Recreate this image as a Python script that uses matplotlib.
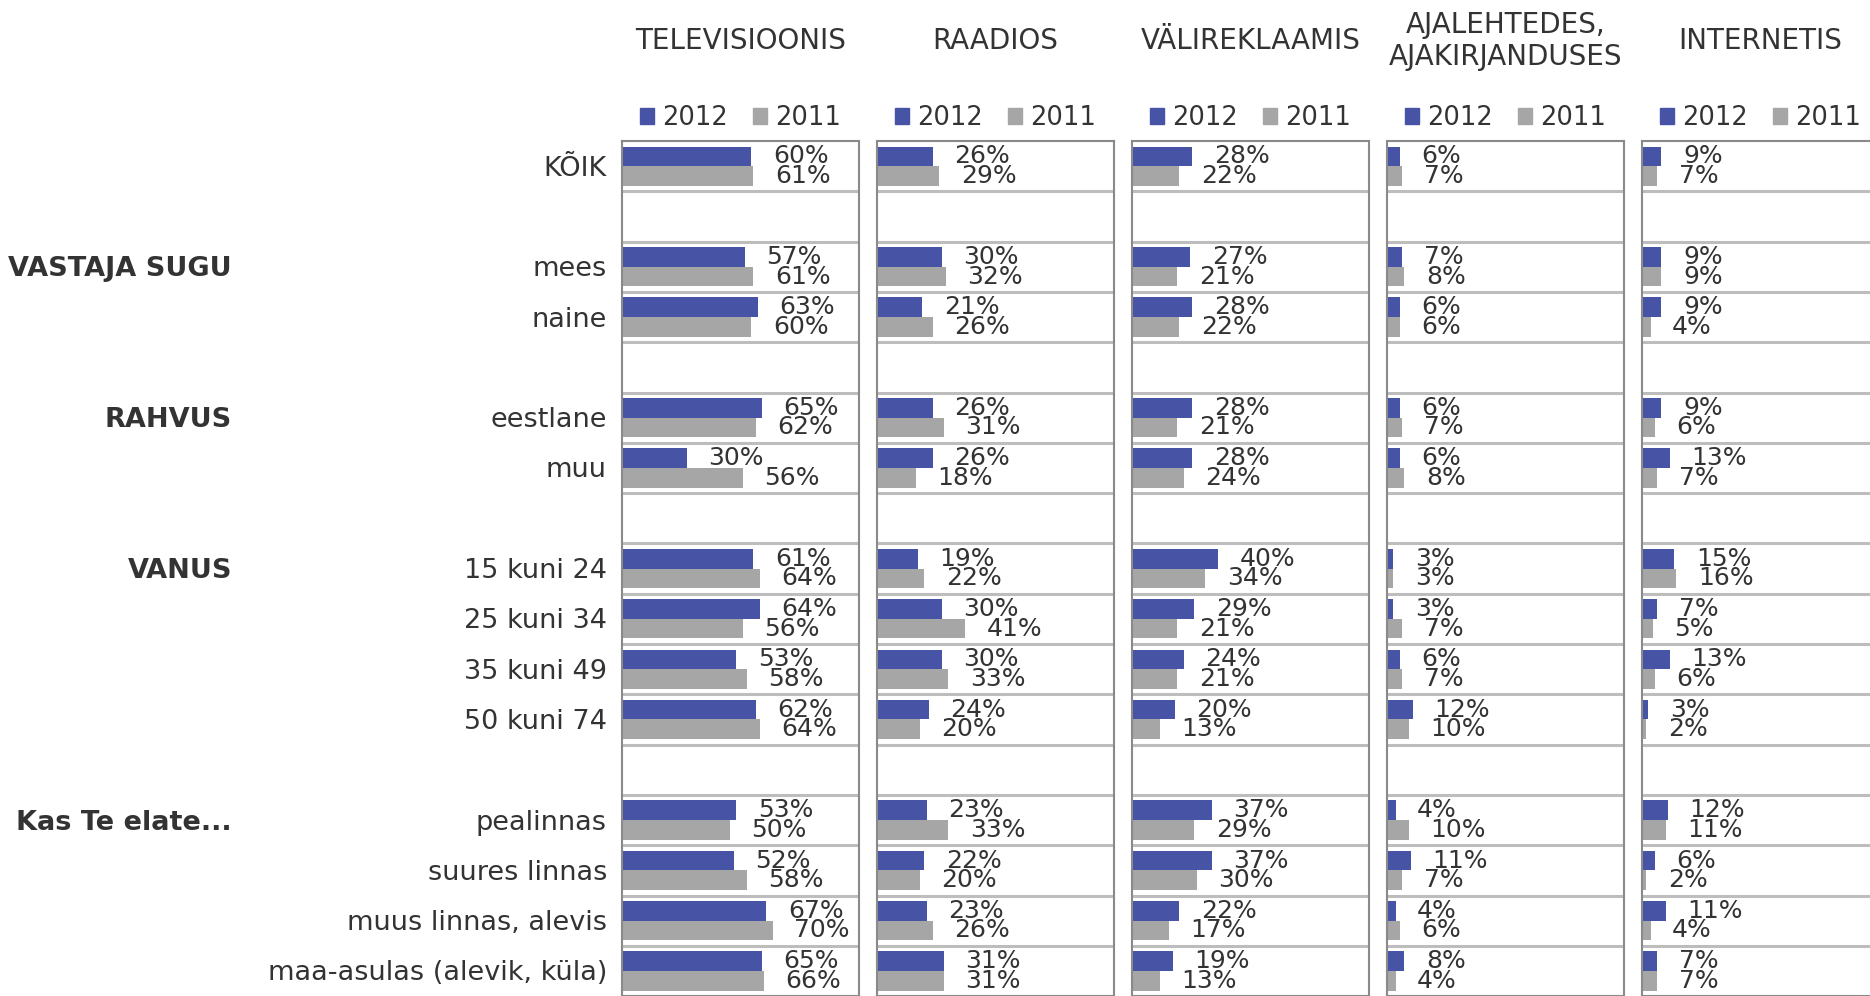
import numpy as np
import matplotlib
matplotlib.use("Agg")
import matplotlib.pyplot as plt
import matplotlib.transforms as mtransforms
from matplotlib.patches import Patch

# rows of the table, "" = empty separator row
row_labels = ["KÕIK", "", "mees", "naine", "", "eestlane", "muu", "",
              "15 kuni 24", "25 kuni 34", "35 kuni 49", "50 kuni 74", "",
              "pealinnas", "suures linnas", "muus linnas, alevis",
              "maa-asulas (alevik, küla)"]
group_labels = {"VASTAJA SUGU": "mees", "RAHVUS": "eestlane",
                "VANUS": "15 kuni 24", "Kas Te elate...": "pealinnas"}

panel_titles = ["TELEVISIOONIS", "RAADIOS", "VÄLIREKLAAMIS",
                "AJALEHTEDES,\nAJAKIRJANDUSES", "INTERNETIS"]
years = ["2012", "2011"]

# values for non-empty rows, per panel
tv_2012 = [60, 57, 63, 65, 30, 61, 64, 53, 62, 53, 52, 67, 65]
tv_2011 = [61, 61, 60, 62, 56, 64, 56, 58, 64, 50, 58, 70, 66]
radio_2012 = [26, 30, 21, 26, 26, 19, 30, 30, 24, 23, 22, 23, 31]
radio_2011 = [29, 32, 26, 31, 18, 22, 41, 33, 20, 33, 20, 26, 31]
outdoor_2012 = [28, 27, 28, 28, 28, 40, 29, 24, 20, 37, 37, 22, 19]
outdoor_2011 = [22, 21, 22, 21, 24, 34, 21, 21, 13, 29, 30, 17, 13]
press_2012 = [6, 7, 6, 6, 6, 3, 3, 6, 12, 4, 11, 4, 8]
press_2011 = [7, 8, 6, 7, 8, 3, 7, 7, 10, 10, 7, 6, 4]
web_2012 = [9, 9, 9, 9, 13, 15, 7, 13, 3, 12, 6, 11, 7]
web_2011 = [7, 9, 4, 6, 7, 16, 5, 6, 2, 11, 2, 4, 7]

series_2012 = [tv_2012, radio_2012, outdoor_2012, press_2012, web_2012]
series_2011 = [tv_2011, radio_2011, outdoor_2011, press_2011, web_2011]

BLUE = "#4753A5"
GRAY = "#A6A6A6"
TXT = "#333333"

W, H = 1870, 996
fig = plt.figure(figsize=(W / 100, H / 100), dpi=100)

n_rows = len(row_labels)
data_rows = np.array([i for i, r in enumerate(row_labels) if r != ""])
top_px = 141
row_px = 50.3
ax_h = n_rows * row_px
panel_w = 237
lefts = [622, 877, 1132, 1387, 1642]
fs_val = 18
fs_cat = 19.5
fs_title = 20
fs_leg = 18.5

axes = []
for k, left in enumerate(lefts):
    ax = fig.add_axes([left / W, (H - top_px - ax_h) / H, panel_w / W, ax_h / H])
    axes.append(ax)
    ax.set_xlim(0, 110)
    ax.set_ylim(n_rows, 0)
    for b in range(1, n_rows):
        ax.axhline(b, color="#BDBDBD", lw=2.2, zorder=1)
    y1 = data_rows + 0.5 - 0.195
    y2 = data_rows + 0.5 + 0.195
    ax.barh(y1, series_2012[k], height=0.39, color=BLUE, zorder=2)
    ax.barh(y2, series_2011[k], height=0.39, color=GRAY, zorder=2)
    for v, y in zip(series_2012[k], y1):
        ax.annotate(f"{v}%", (v, y), xytext=(15.5, 0), textcoords="offset points",
                    ha="left", va="center", fontsize=fs_val, color=TXT, zorder=3)
    for v, y in zip(series_2011[k], y2):
        ax.annotate(f"{v}%", (v, y), xytext=(15.5, 0), textcoords="offset points",
                    ha="left", va="center", fontsize=fs_val, color=TXT, zorder=3)
    ax.set_xticks([])
    ax.set_yticks([])
    for s in ax.spines.values():
        s.set_color("#8A8A8A")
        s.set_linewidth(1.5)
    ax.text(0.5, 1 + (top_px - 41) / ax_h, panel_titles[k], transform=ax.transAxes,
            ha="center", va="center", fontsize=fs_title, color=TXT, linespacing=1.15)
    handles = [Patch(color=BLUE, label=years[0]), Patch(color=GRAY, label=years[1])]
    ax.legend(handles=handles, ncol=2, loc="center",
              bbox_to_anchor=(0.5, 1 + (top_px - 118) / ax_h), frameon=False,
              fontsize=fs_leg, handlelength=0.55, handleheight=0.55,
              handletextpad=0.3, columnspacing=1.0, labelcolor=TXT,
              borderaxespad=0, borderpad=0)

# row and group labels
tr = mtransforms.blended_transform_factory(fig.transFigure, axes[0].transData)
for i, lab in enumerate(row_labels):
    if lab:
        axes[0].text(607 / W, i + 0.55, lab, transform=tr, ha="right", va="center",
                     fontsize=fs_cat, color=TXT)
for g, first in group_labels.items():
    i = row_labels.index(first)
    axes[0].text(232 / W, i + 0.55, g, transform=tr, ha="right", va="center",
                 fontsize=fs_cat, color=TXT, fontweight="bold")

fig.savefig("out.png", dpi=100)
